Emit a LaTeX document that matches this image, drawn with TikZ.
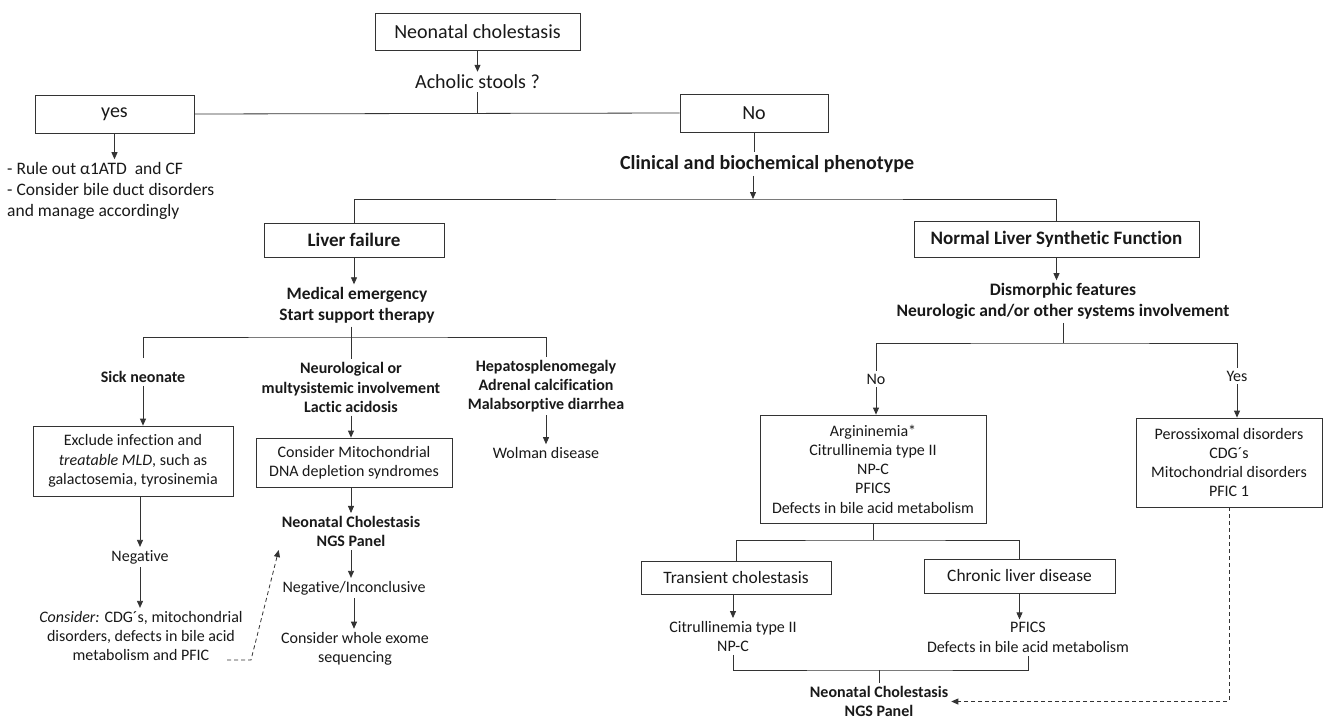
\documentclass[tikz,border=0pt]{standalone}
\usepackage{fontspec}
\setmainfont{Carlito}[Ligatures=NoCommon]
\usetikzlibrary{arrows.meta}

\begin{document}
\begin{tikzpicture}[x=1pt, y=-1pt,
    ln/.style={draw=black!80, line width=0.8pt},
    arr/.style={ln, -{Triangle[length=7pt,width=6pt]}},
    dasharr/.style={ln, dash pattern=on 4pt off 3pt, -{Triangle[length=7pt,width=6pt]}},
    txt/.style={inner sep=3pt, align=center, text=black!90, font=\fontsize{16}{19.3}\selectfont},
    btxt/.style={txt, font=\fontsize{16}{19.3}\selectfont\bfseries},
    box/.style={txt, ln, inner sep=0pt}]
    \fill[white] (0,0) rectangle (1325,720);
    \useasboundingbox (0,0) rectangle (1325,720);
    % top
    \node[box, font=\fontsize{20}{24}\selectfont, minimum width=205pt, minimum height=37pt] (nc) at (477.5,31.5) {Neonatal cholestasis};
    \node[txt, font=\fontsize{20}{24}\selectfont] (achol) at (477.5,82) {Acholic stools ?};
    \node[box, font=\fontsize{20}{24}\selectfont, minimum width=159pt, minimum height=38pt] (yes) at (114.5,114) {yes};
    \node[box, font=\fontsize{20}{24}\selectfont, minimum width=148pt, minimum height=38pt] (no) at (754,113) {No};
    \node[txt, align=left, anchor=west, font=\fontsize{17.5}{21}\selectfont] (rule) at (4,191) {- Rule out α1ATD~ and CF\\- Consider bile duct disorders\\and manage accordingly};
    \node[btxt, font=\fontsize{20}{24}\selectfont\bfseries] (clin) at (767,164) {Clinical and biochemical phenotype};
    \coordinate (s1) at (753,199);
    \node[box, font=\fontsize{19}{23}\selectfont\bfseries, minimum width=180pt, minimum height=34pt] (lf) at (354,240) {Liver failure};
    \node[box, font=\fontsize{19}{23}\selectfont\bfseries, minimum width=285pt, minimum height=36pt] (nl) at (1056.5,239) {Normal Liver Synthetic Function};
    % liver failure branch
    \node[btxt, font=\fontsize{17.4}{21}\selectfont\bfseries] (med) at (357,305.5) {Medical emergency\\Start support therapy};
    \coordinate (s2) at (351,337);
    \node[btxt] (sick) at (143,377) {Sick neonate};
    \node[btxt] (neuro) at (351,387.5) {Neurological or\\multysistemic involvement\\Lactic acidosis};
    \node[btxt] (hep) at (546,386) {Hepatosplenomegaly\\Adrenal calcification\\Malabsorptive diarrhea};
    \node[txt] (wol) at (546,453) {Wolman disease};
    \node[box, minimum width=200pt, minimum height=70pt] (excl) at (133,461) {Exclude infection and\\\textit{treatable MLD}, such as\\galactosemia, tyrosinemia};
    \node[box, minimum width=196pt, minimum height=49pt] (mito) at (354,462.5) {Consider Mitochondrial\\DNA depletion syndromes};
    \node[txt] (neg) at (140,557) {Negative};
    \node[txt] (cons) at (141,636) {\textit{Consider:} CDG´s, mitochondrial\\disorders, defects in bile acid\\metabolism and PFIC};
    \node[btxt] (ngsa) at (351,531.5) {Neonatal Cholestasis\\NGS Panel};
    \node[txt] (inc) at (354,588) {Negative/Inconclusive};
    \node[txt] (wes) at (355,648.5) {Consider whole exome\\sequencing};
    \coordinate (dstart) at (227,660);
    \coordinate (dbend) at (251,660);
    % normal function branch
    \node[btxt, font=\fontsize{17.5}{21}\selectfont\bfseries] (dism) at (1063,301.5) {Dismorphic features\\Neurologic and/or other systems involvement};
    \coordinate (s3) at (1063,343);
    \node[txt] (no2) at (876,379) {No};
    \node[txt] (yes2) at (1237,376) {Yes};
    \node[box, minimum width=226pt, minimum height=108pt] (arg) at (873,469) {Argininemia*\\Citrullinemia type II\\NP-C\\PFICS\\Defects in bile acid metabolism};
    \node[box, minimum width=186pt, minimum height=89pt] (per) at (1229,462.5) {Perossixomal disorders\\CDG´s\\Mitochondrial disorders\\PFIC 1};
    \coordinate (s4) at (873,540);
    \node[box, font=\fontsize{17.4}{21}\selectfont, minimum width=190pt, minimum height=33pt] (trans) at (736,577.5) {Transient cholestasis};
    \node[box, font=\fontsize{17.4}{21}\selectfont, minimum width=191pt, minimum height=34pt] (chron) at (1019.5,576) {Chronic liver disease};
    \node[txt] (cit) at (733,636.5) {Citrullinemia type II\\NP-C};
    \node[txt] (pfi) at (1028,637.5) {PFICS\\Defects in bile acid metabolism};
    \coordinate (s5) at (879,670);
    \node[btxt] (ngsb) at (879,701.5) {Neonatal Cholestasis\\NGS Panel};
    % connectors
    \draw[arr] (nc.south) -- (nc.south |- achol.north);
    \draw[ln] (achol.south) -- (achol.south |- yes.east);
    \draw[ln] (yes.east) -- (no.west);
    \draw[arr] (yes.south) -- (yes.south |- rule.north);
    \draw[ln] (no.south) -- (no.south |- clin.north);
    \draw[arr] (s1 |- clin.south) -- (s1);
    \draw[ln] (lf.north) |- (s1) -| (nl.north);
    \draw[arr] (lf.south) -- (lf.south |- med.north);
    \draw[ln] (s2 |- med.south) -- (neuro.north);
    \draw[ln, shorten <=10pt] (sick.north) |- (s2) -| (hep.north);
    \draw[arr] (sick.south) -- (sick.south |- excl.north);
    \draw[arr] (neg.north |- excl.south) -- (neg.north);
    \draw[arr] (neg.south) -- (neg.south |- cons.north);
    \draw[arr] (neuro.south) -- (neuro.south |- mito.north);
    \draw[arr] (ngsa.north |- mito.south) -- (ngsa.north);
    \draw[arr] (ngsa.south) -- (ngsa.south |- inc.north);
    \draw[arr] (inc.south) -- (inc.south |- wes.north);
    \draw[arr] (hep.south) -- (wol.north);
    \draw[dasharr] (dstart) -- (dbend) -- (ngsa.south west);
    \draw[arr] (nl.south) -- (nl.south |- dism.north);
    \draw[ln] (dism.south) -- (s3);
    \draw[ln] (no2.north) |- (s3) -| (yes2.north);
    \draw[arr] (no2.south) -- (no2.south |- arg.north);
    \draw[arr] (yes2.south) -- (yes2.south |- per.north);
    \draw[ln] (arg.south) -- (s4);
    \draw[ln] (trans.north) |- (s4) -| (chron.north);
    \draw[arr] (cit.north |- trans.south) -- (cit.north);
    \draw[arr] (chron.south) -- (chron.south |- pfi.north);
    \draw[ln] (cit.south) |- (s5) -| (pfi.south);
    \draw[ln] (s5) -- (ngsb.north);
    \draw[dasharr] (per.south) |- (ngsb.east);
\end{tikzpicture}
\end{document}
